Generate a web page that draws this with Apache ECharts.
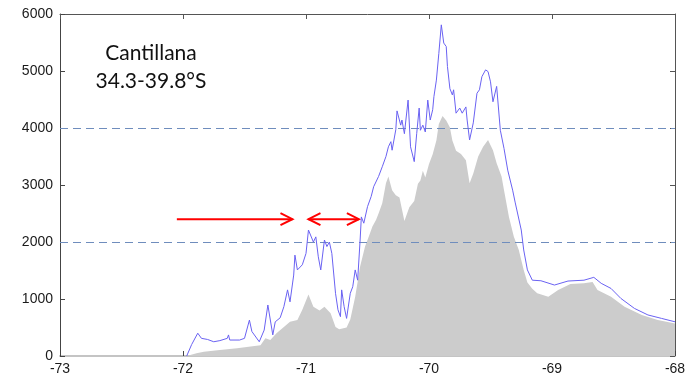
<!DOCTYPE html>
<html>
<head>
<meta charset="utf-8">
<script src="https://cdn.jsdelivr.net/npm/echarts@6/dist/echarts.min.js"></script>
<style>
  html, body { margin: 0; padding: 0; background: #fff; }
  #chart { width: 696px; height: 379px; }
</style>
</head>
<body>
<div id="chart"></div>
<script>
// Swath profile across the Andes: maximum (line) and mean (filled) elevation
const lonMax = [-71.97, -71.93, -71.88, -71.85, -71.80, -71.75, -71.70, -71.64, -71.63, -71.62,
  -71.54, -71.50, -71.46, -71.44, -71.38, -71.37, -71.34, -71.31, -71.27, -71.25,
  -71.21, -71.18, -71.15, -71.13, -71.10, -71.09, -71.07, -71.03, -71.00, -70.98,
  -70.94, -70.92, -70.90, -70.88, -70.85, -70.83, -70.81, -70.79, -70.76, -70.74,
  -70.72, -70.71, -70.69, -70.67, -70.64, -70.62, -70.60, -70.58, -70.56, -70.55,
  -70.53, -70.50, -70.47, -70.45, -70.41, -70.38, -70.35, -70.33, -70.31, -70.30,
  -70.27, -70.26, -70.23, -70.22, -70.20, -70.17, -70.15, -70.12, -70.10, -70.08,
  -70.07, -70.05, -70.03, -70.01, -69.99, -69.97, -69.96, -69.94, -69.92, -69.90,
  -69.88, -69.86, -69.85, -69.83, -69.81, -69.80, -69.78, -69.75, -69.73, -69.70,
  -69.69, -69.67, -69.64, -69.61, -69.59, -69.57, -69.54, -69.52, -69.50, -69.48,
  -69.45, -69.42, -69.39, -69.36, -69.32, -69.30, -69.25, -69.23, -69.20, -69.16,
  -69.09, -68.98, -68.87, -68.74, -68.66, -68.60, -68.52, -68.44, -68.33, -68.22,
  -68.11, -68.00];
const elevMax = [0, 200, 400, 310, 290, 250, 270, 310, 370, 280,
  280, 310, 630, 430, 250, 230, 455, 895, 370, 600,
  670, 865, 1160, 950, 1420, 1770, 1510, 1600, 1800, 2210,
  2000, 2090, 1740, 1510, 2035, 1920, 2000, 1800, 1100, 810,
  690, 1160, 865, 660, 1100, 1215, 1510, 1330, 2035, 2440,
  2330, 2620, 2800, 2970, 3150, 3320, 3500, 3670, 3760, 3610,
  3970, 4300, 4050, 4140, 3900, 4490, 3670, 3410, 3900, 4350,
  3960, 4050, 3930, 4490, 4140, 4320, 4550, 4840, 5310, 5810,
  5490, 5430, 5080, 4690, 4580, 4670, 4260, 4350, 4260, 4370,
  4140, 3790, 4090, 4610, 4670, 4900, 5020, 4990, 4810, 4460,
  4730, 3960, 3640, 3260, 2910, 2700, 2210, 1860, 1510, 1330,
  1320, 1245, 1315, 1330, 1380, 1275, 1185, 1010, 835, 720,
  660, 600];

const lonMean = [-71.97, -71.89, -71.83, -71.70, -71.56, -71.45, -71.37, -71.33, -71.29, -71.24,
  -71.18, -71.13, -71.07, -71.03, -70.98, -70.94, -70.89, -70.85, -70.80, -70.76,
  -70.73, -70.67, -70.64, -70.60, -70.56, -70.52, -70.49, -70.46, -70.43, -70.41,
  -70.38, -70.35, -70.33, -70.30, -70.27, -70.24, -70.20, -70.16, -70.12, -70.09,
  -70.07, -70.05, -70.03, -70.00, -69.97, -69.94, -69.92, -69.89, -69.86, -69.83,
  -69.81, -69.78, -69.74, -69.70, -69.67, -69.64, -69.60, -69.56, -69.52, -69.48,
  -69.45, -69.41, -69.39, -69.35, -69.31, -69.27, -69.23, -69.20, -69.16, -69.12,
  -69.03, -68.95, -68.85, -68.74, -68.67, -68.63, -68.52, -68.41, -68.27, -68.14,
  -68.00];
const elevMean = [0, 50, 75, 105, 135, 165, 190, 310, 280, 400,
  510, 600, 630, 810, 1080, 865, 800, 865, 750, 510,
  470, 500, 640, 1040, 1570, 1920, 2090, 2270, 2390, 2500,
  2680, 3030, 3150, 2910, 2820, 2780, 2370, 2610, 2720, 3020,
  3080, 3250, 3130, 3370, 3540, 3780, 4070, 4210, 4130, 4010,
  3780, 3600, 3545, 3435, 3030, 3200, 3500, 3670, 3790, 3610,
  3380, 3150, 2910, 2440, 2090, 1860, 1510, 1290, 1180, 1100,
  1040, 1160, 1265, 1275, 1300, 1160, 1040, 865, 720, 630,
  570];

// Reference elevations drawn as dashed lines
const refLevels = [2000, 4000];

// Arrow annotations (longitude span, elevation of the arrow)
const arrowElev = 2400;
const arrowSingle = [-72.05, -71.11];
const arrowDouble = [-70.98, -70.57];

const titleLines = ['Cantillana', '34.3-39.8°S'];

const xTicks = { min: -73, max: -68, interval: 1 };
const yTicks = { min: 0, max: 6000, interval: 1000 };

const zip = (xs, ys) => xs.map((x, i) => [x, ys[i]]);

const chart = echarts.init(document.getElementById('chart'));
const labelFont = { fontFamily: 'Liberation Sans', fontSize: 14, color: '#1a1a1a', formatter: v => String(v) };
const frame = { show: true, onZero: false, lineStyle: { color: '#555', width: 1 } };

chart.setOption({
  animation: false,
  grid: { left: 60, right: 21, top: 14, bottom: 23 },
  xAxis: [{
    type: 'value', min: xTicks.min, max: xTicks.max, interval: xTicks.interval,
    axisLine: { show: true, onZero: false, lineStyle: { color: '#c4c4c4', width: 2 } },
    axisTick: { show: true, inside: true, length: 5, lineStyle: { color: '#444' } },
    axisLabel: Object.assign({ margin: 6 }, labelFont),
    splitLine: { show: false }
  }, {
    type: 'value', position: 'top', min: xTicks.min, max: xTicks.max, interval: xTicks.interval,
    axisLine: frame,
    axisTick: { show: true, inside: true, length: 5, lineStyle: { color: '#555' } },
    axisLabel: { show: false }, splitLine: { show: false }
  }],
  yAxis: [{
    type: 'value', min: yTicks.min, max: yTicks.max, interval: yTicks.interval,
    axisLine: { show: true, onZero: false, lineStyle: { color: '#444', width: 1 } },
    axisTick: { show: true, inside: true, length: 5, lineStyle: { color: '#444' } },
    axisLabel: Object.assign({ margin: 7 }, labelFont),
    splitLine: { show: false }
  }, {
    type: 'value', position: 'right', min: yTicks.min, max: yTicks.max, interval: yTicks.interval,
    axisLine: frame,
    axisTick: { show: true, inside: true, length: 5, lineStyle: { color: '#555' } },
    axisLabel: { show: false }, splitLine: { show: false }
  }],
  series: [{
    name: 'mean',
    type: 'line',
    data: zip(lonMean, elevMean),
    showSymbol: false,
    lineStyle: { width: 0 },
    itemStyle: { color: '#cccccc' },
    areaStyle: { color: '#cccccc', opacity: 1 },
    z: 1
  }, {
    name: 'max',
    type: 'line',
    data: zip(lonMax, elevMax),
    showSymbol: false,
    lineStyle: { width: 1, color: '#6a62f2' },
    itemStyle: { color: '#6a62f2' },
    z: 3,
    markLine: {
      silent: true,
      symbol: 'none',
      label: { show: false },
      lineStyle: { color: '#6f8dbd', width: 1, type: [8, 5] },
      data: refLevels.map(v => ({ yAxis: v })),
      z: 2
    }
  }]
});

// Arrows and the region caption, positioned through the axes
function arrowShapes(x0, x1, doubleHead) {
  const p0 = chart.convertToPixel({ gridIndex: 0 }, [x0, arrowElev]);
  const p1 = chart.convertToPixel({ gridIndex: 0 }, [x1, arrowElev]);
  const style = { stroke: '#ff0000', lineWidth: 2, fill: null };
  const hl = 12, hw = 6;
  const out = [
    { type: 'line', shape: { x1: p0[0], y1: p0[1], x2: p1[0], y2: p1[1] }, style },
    { type: 'polyline', shape: { points: [[p1[0] - hl, p1[1] - hw], [p1[0], p1[1]], [p1[0] - hl, p1[1] + hw]] }, style }
  ];
  if (doubleHead) {
    out.push({ type: 'polyline', shape: { points: [[p0[0] + hl, p0[1] - hw], [p0[0], p0[1]], [p0[0] + hl, p0[1] + hw]] }, style });
  }
  return out;
}

const captionStyle = { fontFamily: 'Lato', fontSize: 21, fill: '#111', align: 'center', verticalAlign: 'middle' };
chart.setOption({
  graphic: [
    ...arrowShapes(arrowSingle[0], arrowSingle[1], false),
    ...arrowShapes(arrowDouble[0], arrowDouble[1], true),
    { type: 'text', x: 151, y: 53, style: Object.assign({ text: titleLines[0] }, captionStyle) },
    { type: 'text', x: 151, y: 81, style: Object.assign({ text: titleLines[1] }, captionStyle) }
  ]
});
</script>
</body>
</html>
